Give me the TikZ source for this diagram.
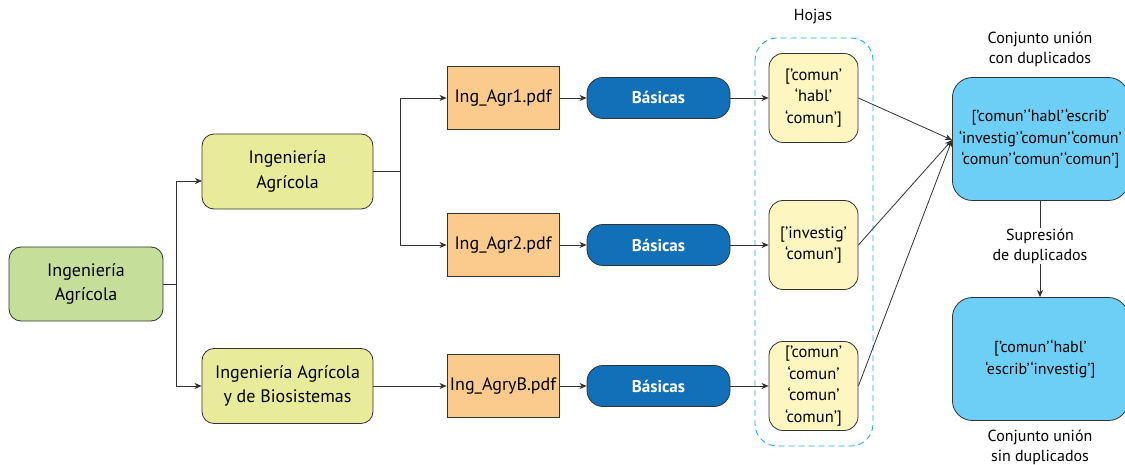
\documentclass[tikz,border=0pt]{standalone}
\usepackage{fontspec}
\setmainfont{PT Sans}
\usetikzlibrary{positioning,calc,arrows.meta}

\definecolor{raizverde}{HTML}{C5DF9B}
\definecolor{carrera}{HTML}{E8EB9A}
\definecolor{archivo}{HTML}{FBCB8E}
\definecolor{basica}{HTML}{1170B8}
\definecolor{hoja}{HTML}{FDF6C0}
\definecolor{union}{HTML}{6DCFF6}
\definecolor{borde}{HTML}{333333}
\definecolor{marco}{HTML}{29ABE2}

\newcommand{\qq}{’\kern1pt‘}

\begin{document}
\begin{tikzpicture}[x=1pt, y=-1pt,
    font=\fontsize{16}{20}\selectfont,
    every node/.style={align=center, inner sep=0pt},
    caja/.style={draw=borde, line width=0.8pt, rounded corners=12pt, font=\fontsize{18}{24.5}\selectfont},
    carrerabox/.style={caja, fill=carrera, minimum width=171pt, minimum height=75pt},
    pdfbox/.style={draw=borde, line width=0.8pt, fill=archivo, font=\fontsize{18}{24}\selectfont, minimum width=112pt, minimum height=63pt},
    basbox/.style={caja, fill=basica, rounded corners=16pt, text=white, font=\fontsize{17}{21}\selectfont\bfseries, minimum width=143pt, minimum height=41pt},
    hojabox/.style={caja, fill=hoja, rounded corners=14pt, font=\fontsize{16.5}{21.5}\selectfont, minimum width=89pt, minimum height=89pt},
    unionbox/.style={caja, fill=union, rounded corners=20pt, font=\fontsize{16}{21.5}\selectfont, minimum width=176pt, minimum height=123pt},
    flecha/.style={draw=borde, line width=0.8pt, -{Stealth[length=7pt,width=6pt,inset=2pt]}},
    linea/.style={draw=borde, line width=0.8pt}]

    \useasboundingbox (0,0) rectangle (1125,465);
    \clip (0,0) rectangle (1125,465);

    % arbol de carreras
    \node[caja, fill=raizverde, minimum width=154pt, minimum height=74pt] (raiz) at (86,284) {Ingeniería\\Agrícola};
    \node[carrerabox] (ia) at (287.5,171.5) {Ingeniería\\Agrícola};
    \node[carrerabox] (iab) at (287.5,386) {Ingeniería Agrícola\\y de Biosistemas};

    % archivos y palabras basicas
    \node[pdfbox] (pdf1) at (503,98) {Ing\_Agr1.pdf};
    \node[pdfbox] (pdf2) at (503,245) {Ing\_Agr2.pdf};
    \node[pdfbox] (pdf3) at (503,386) {Ing\_AgryB.pdf};
    \node[basbox] (bas1) at (658.5,98) {Básicas};
    \node[basbox] (bas2) at (658.5,245) {Básicas};
    \node[basbox] (bas3) at (658.5,386) {Básicas};

    % hojas
    \node[hojabox] (hoja1) at (813.5,98) {[’comun’\\‘habl’\\‘comun’]};
    \node[hojabox] (hoja2) at (813.5,245) {[’investig’\\‘comun’]};
    \node[hojabox] (hoja3) at (813.5,386) {[’comun’\\‘comun’\\‘comun’\\‘comun’]};
    \draw[marco, dashed, line width=0.9pt, dash pattern=on 6pt off 4pt, rounded corners=22pt]
        (755,38) rectangle (873,446);
    \node (hojas) at (813,17) {Hojas};

    % conjuntos
    \node[unionbox, anchor=west] (con) at (952,139) {[’comun\qq habl\qq escrib’\\‘investig\qq comun\qq comun’\\‘comun\qq comun\qq comun’]};
    \node[unionbox, anchor=west] (sin) at (952,359) {[’comun\qq habl’\\‘escrib\qq investig’]};
    \node (conlbl) at (1040,49) {Conjunto unión\\con duplicados};
    \node (sinlbl) at (1040,447) {Conjunto unión\\sin duplicados};
    \node (supr) at (1040,246) {Supresión\\de duplicados};
    \coordinate (meta) at (952,140);

    % conectores
    \draw[linea] (raiz.east) -- (176,284);
    \draw[flecha] (176,284) |- (202,181);
    \draw[flecha] (176,284) |- (iab.west);
    \draw[linea] (ia.east) -- (400,171.5);
    \draw[flecha] (400,171.5) |- (pdf1.west);
    \draw[flecha] (400,171.5) |- (pdf2.west);
    \draw[flecha] (iab.east) -- (pdf3.west);
    \foreach \i in {1,2,3}{
        \draw[flecha] (pdf\i.east) -- (bas\i.west);
        \draw[flecha] (bas\i.east) -- (hoja\i.west);
        \draw[flecha] (hoja\i.east) -- (meta);
    }
    \draw[linea] (con.south -| supr) -- (supr.north);
    \draw[flecha] (supr.south) -- (sin.north -| supr);
\end{tikzpicture}
\end{document}
